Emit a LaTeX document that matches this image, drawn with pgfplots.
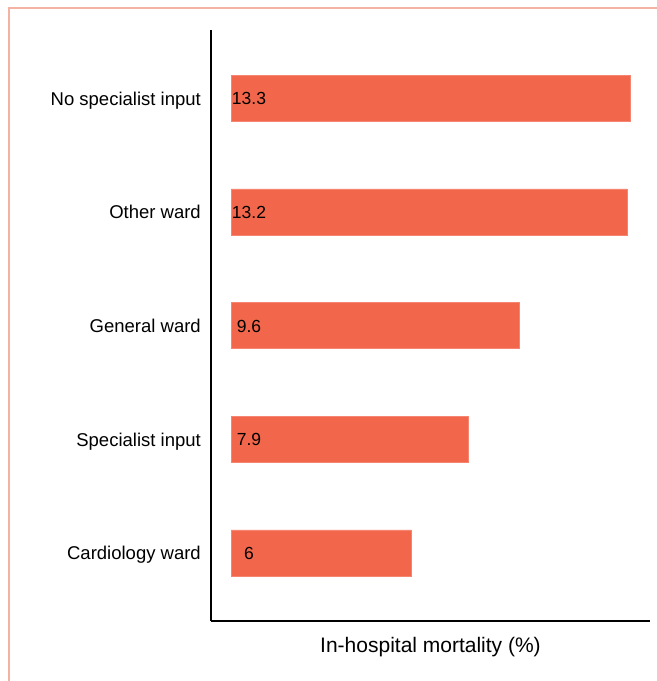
\documentclass[border=0pt]{standalone}
\usepackage{pgfplots}
\pgfplotsset{compat=1.18}
\usepackage{fontspec}
\setmainfont{Liberation Sans}
\definecolor{barc}{RGB}{242,103,76}
\definecolor{framec}{RGB}{244,178,162}
\begin{document}
\begin{tikzpicture}
\useasboundingbox (0,-681bp) rectangle (657bp,0);
\draw[framec, line width=2bp] (9bp,-681bp) -- (9bp,-8bp) -- (657bp,-8bp);
\begin{axis}[
  at={(211bp,-621bp)}, anchor=south west,
  scale only axis, width=439bp, height=591bp,
  xmin=-0.667, xmax=13.97, ymin=-0.6, ymax=4.6,
  axis x line*=bottom, axis y line*=left,
  axis line style={line width=1.5bp, black, -},
  xtick=\empty,
  ytick={0,1,2,3,4},
  yticklabels={Cardiology ward, Specialist input, General ward, Other ward, No specialist input},
  major tick length=0pt,
  yticklabel style={anchor=base east, inner sep=0pt, xshift=-10bp, yshift=-7bp, font=\fontsize{18.5bp}{20bp}\selectfont},
  xlabel={In-hospital mortality (\%)},
  xlabel style={at={(axis description cs:0.5,0)}, anchor=center, yshift=-26bp, inner sep=0pt, font=\fontsize{21bp}{24bp}\selectfont},
  clip=false,
]
\addplot[xbar, bar width=46bp, fill=barc, draw=barc!80!white, line width=0.5bp] coordinates {
  (6,0) (7.9,1) (9.6,2) (13.2,3) (13.3,4)
};
\addplot[only marks, mark=none, nodes near coords, point meta=explicit symbolic,
  nodes near coords style={anchor=base, inner sep=0pt, yshift=-6.5bp, font=\fontsize{17.5bp}{19bp}\selectfont}]
  coordinates {
  (0.6,0) [6] (0.6,1) [7.9] (0.6,2) [9.6] (0.6,3) [13.2] (0.6,4) [13.3]
};
\end{axis}
\end{tikzpicture}
\end{document}
